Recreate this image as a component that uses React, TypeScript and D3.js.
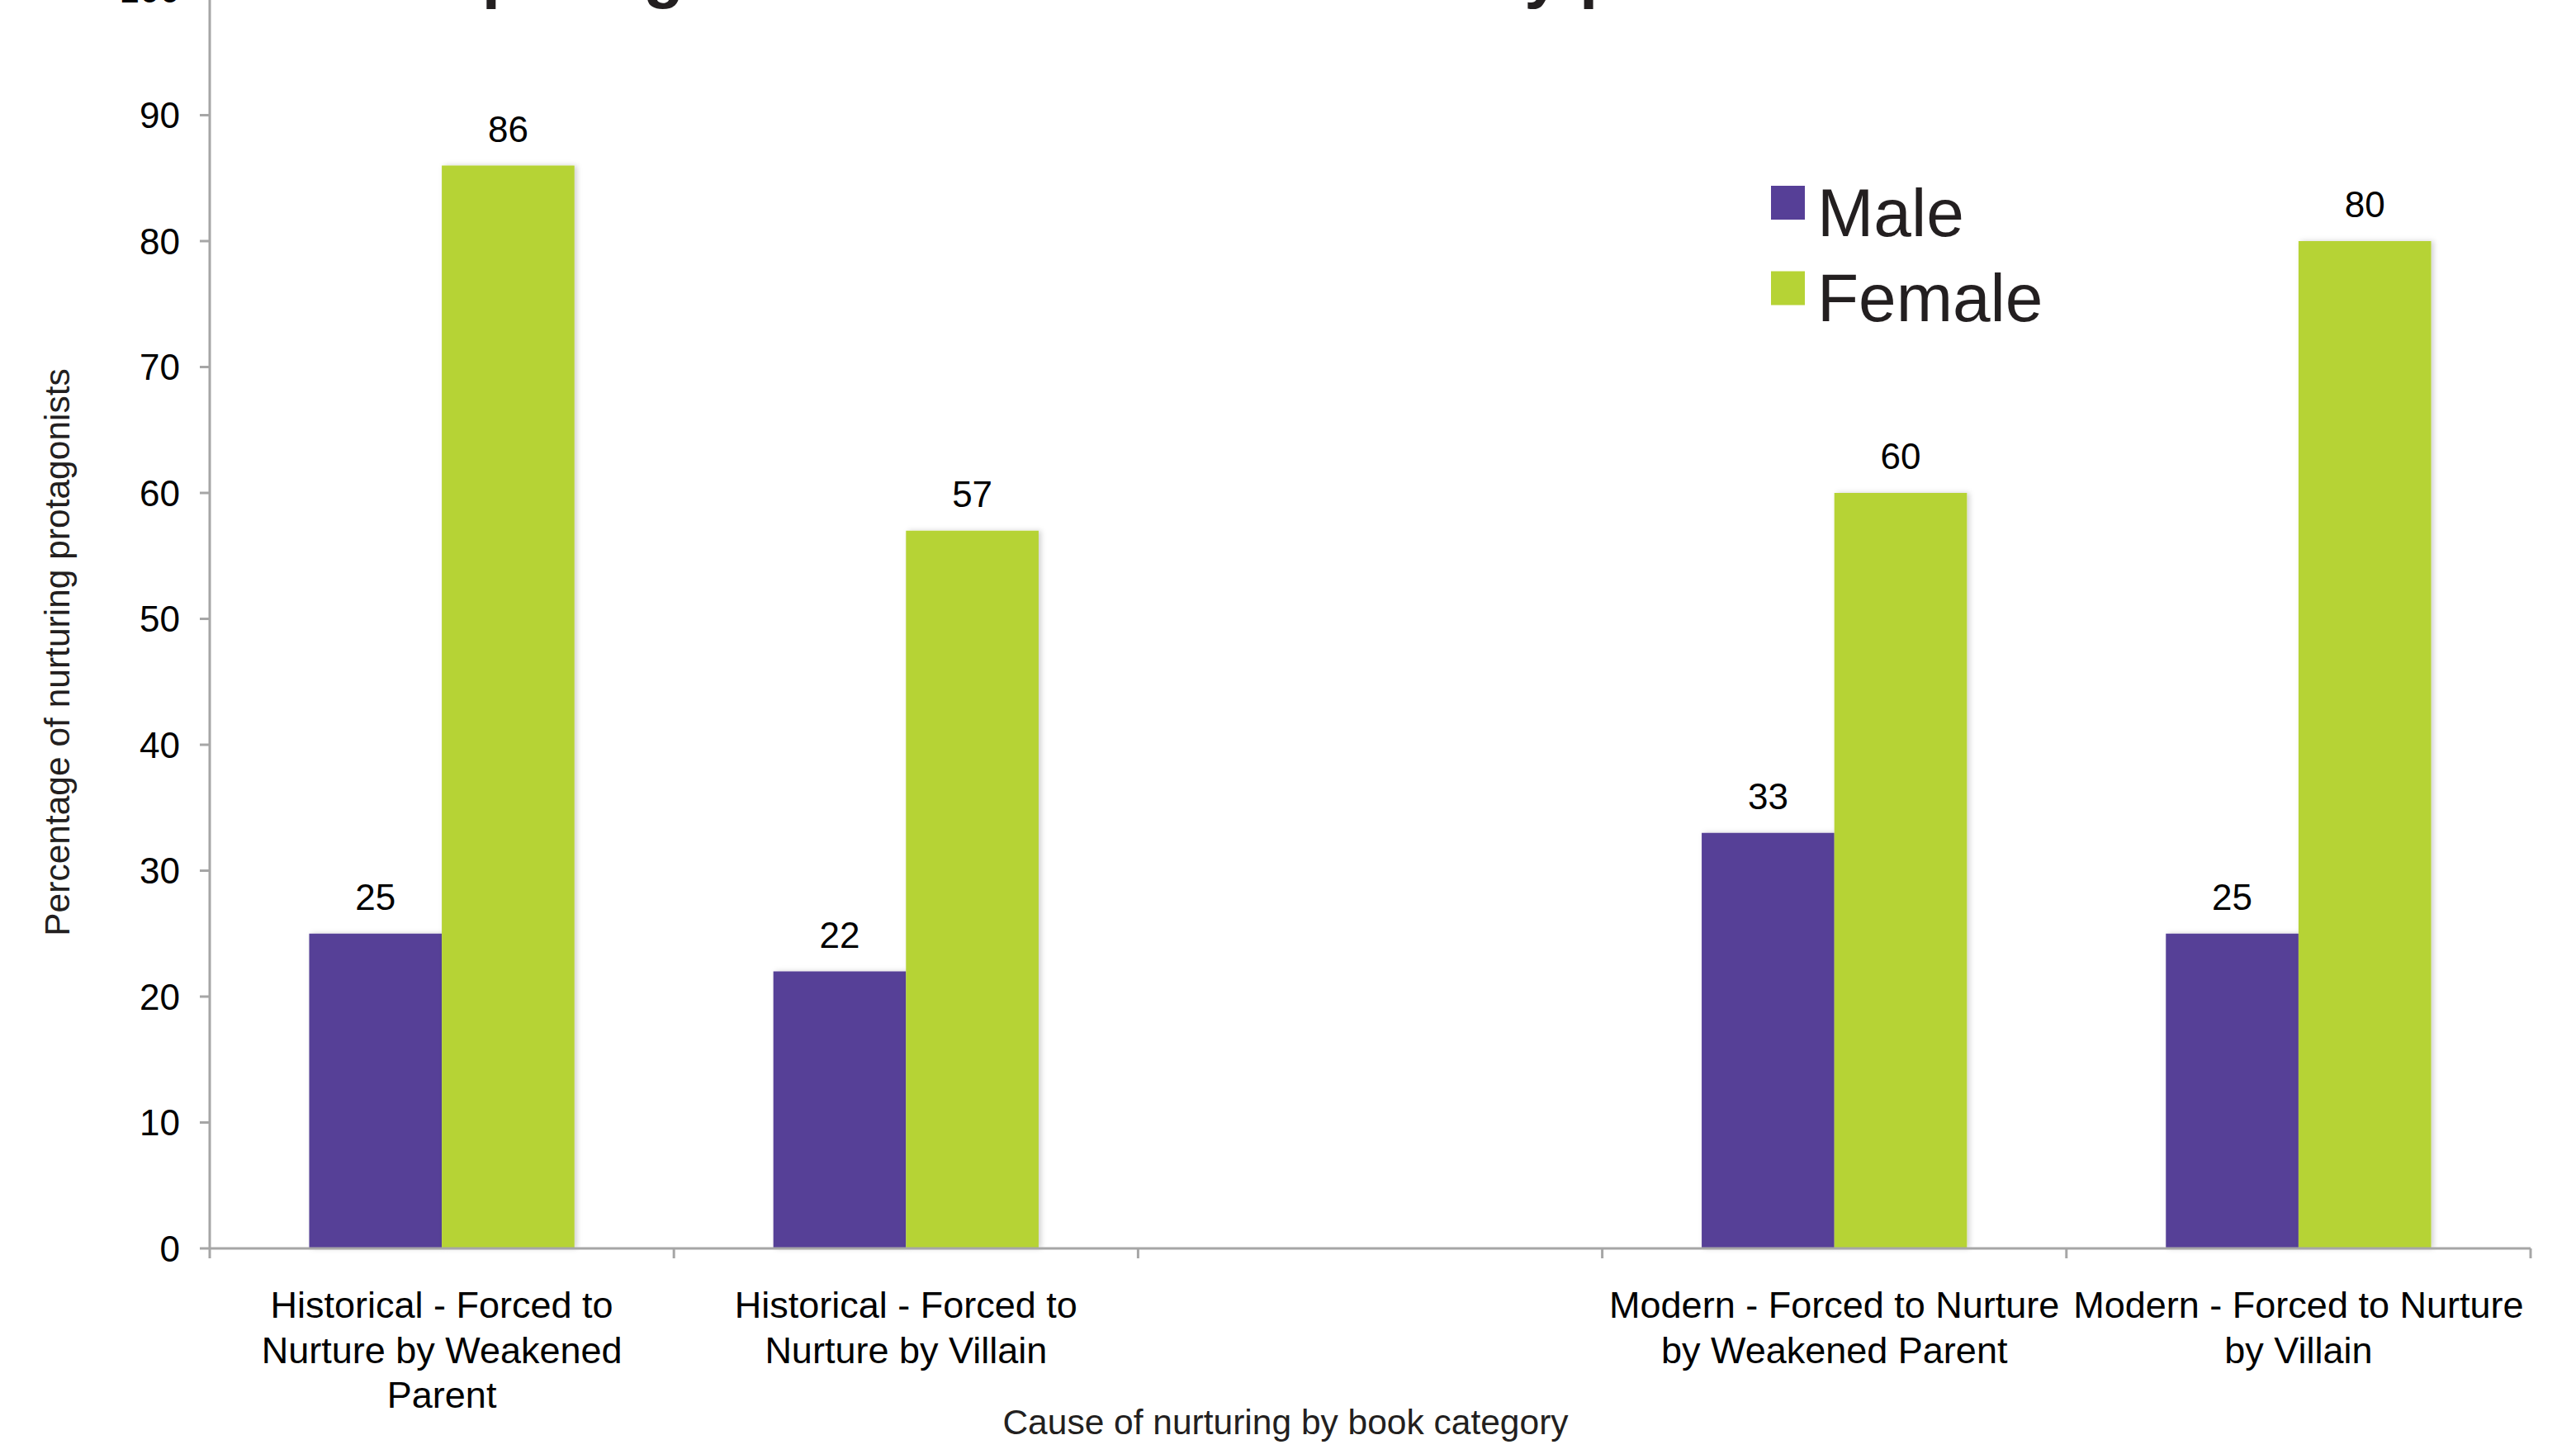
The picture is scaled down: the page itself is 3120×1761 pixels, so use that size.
import React from "react";
import * as d3 from "d3";

// Book categories (empty slot keeps the gap between historical and modern groups)
const categories: string[] = [
  "Historical - Forced to\nNurture by Weakened\nParent",
  "Historical - Forced to\nNurture by Villain",
  "",
  "Modern - Forced to Nurture\nby Weakened Parent",
  "Modern - Forced to Nurture\nby Villain",
];

const seriesNames: string[] = ["Male", "Female"];
const maleValues: (number | null)[] = [25, 22, null, 33, 25];
const femaleValues: (number | null)[] = [86, 57, null, 60, 80];
const yTicks: number[] = [0, 10, 20, 30, 40, 50, 60, 70, 80, 90, 100];

const title = "Comparing male and female nurture by parent and villain";
const yTitle = "Percentage of nurturing protagonists";
const xTitle = "Cause of nurturing by book category";

const COLORS = ["#563f97", "#b6d335"];
const AXIS = "#a6a6a6";
const INK = "#231f20";
const FONT = "'Liberation Sans', Arial, Helvetica, sans-serif";

export default function App() {
  const W = 3120;
  const H = 1761;
  const left = 254;
  const right = 3065;
  const baseY = 1512;
  const topY = -13;

  const x = d3.scaleBand<number>().domain(d3.range(categories.length)).range([left, right]).padding(0);
  const y = d3.scaleLinear().domain([0, 100]).range([baseY, topY]);
  const bw = x.bandwidth();
  const barW = (bw * 2) / 7;
  const inner = d3.scaleBand<number>().domain([0, 1]).range([0, barW * 2]).padding(0);

  const series = [maleValues, femaleValues];

  return (
    <svg
      width={W}
      height={H}
      viewBox={`0 0 ${W} ${H}`}
      style={{ position: "absolute", left: 0, top: 0, display: "block", background: "#fff" }}
      fontFamily={FONT}
    >
      <defs>
        <filter id="barShadow" x="-10%" y="-10%" width="130%" height="120%">
          <feDropShadow dx="3" dy="0" stdDeviation="3" floodColor="#000" floodOpacity="0.18" />
        </filter>
      </defs>

      {/* title, mostly above the top edge */}
      <text x={406} y={-6} fontSize={80} fontWeight="bold" fill={INK}>
        {title}
      </text>

      {/* y axis */}
      <line x1={left} x2={left} y1={y(100)} y2={baseY} stroke={AXIS} strokeWidth={3} />
      {yTicks.map((t) => (
        <g key={t}>
          <line x1={left - 12} x2={left} y1={y(t)} y2={y(t)} stroke={AXIS} strokeWidth={3} />
          <text x={left - 36} y={y(t)} dy="0.36em" textAnchor="end" fontSize={44} fill="#000">
            {t}
          </text>
        </g>
      ))}

      {/* bars */}
      {categories.map((c, i) => {
        const x0 = (x(i) as number) + (bw - barW * 2) / 2;
        return (
          <g key={i}>
            {series.map((vals, s) => {
              const v = vals[i];
              if (v == null) return null;
              const bx = x0 + (inner(s) as number);
              return (
                <g key={s}>
                  <rect
                    x={bx}
                    y={y(v)}
                    width={barW}
                    height={baseY - y(v)}
                    fill={COLORS[s]}
                    filter="url(#barShadow)"
                  />
                  <text x={bx + barW / 2} y={y(v) - 29} textAnchor="middle" fontSize={44} fill="#000">
                    {v}
                  </text>
                </g>
              );
            })}
          </g>
        );
      })}

      {/* x axis */}
      <line x1={left} x2={right} y1={baseY} y2={baseY} stroke={AXIS} strokeWidth={3} />
      {d3.range(categories.length + 1).map((i) => {
        const tx = left + i * bw;
        return <line key={i} x1={tx} x2={tx} y1={baseY} y2={baseY + 12} stroke={AXIS} strokeWidth={3} />;
      })}

      {/* category labels */}
      {categories.map((c, i) => (
        <text key={i} textAnchor="middle" fontSize={45} fill="#000">
          {c
            .split("\n")
            .filter((l) => l.length)
            .map((line, k) => (
              <tspan key={k} x={(x(i) as number) + bw / 2} y={1596 + k * 54.5}>
                {line}
              </tspan>
            ))}
        </text>
      ))}

      {/* axis titles */}
      <text x={1557} y={1737} textAnchor="middle" fontSize={42.5} fill={INK}>
        {xTitle}
      </text>
      <text
        transform={`translate(84, 790) rotate(-90)`}
        textAnchor="middle"
        fontSize={42.5}
        fill={INK}
      >
        {yTitle}
      </text>

      {/* legend */}
      {seriesNames.map((name, s) => (
        <g key={name}>
          <rect x={2145} y={225 + s * 103.5} width={41} height={41} fill={COLORS[s]} />
          <text x={2201} y={286 + s * 102.5} fontSize={82} fill={INK}>
            {name}
          </text>
        </g>
      ))}
    </svg>
  );
}
